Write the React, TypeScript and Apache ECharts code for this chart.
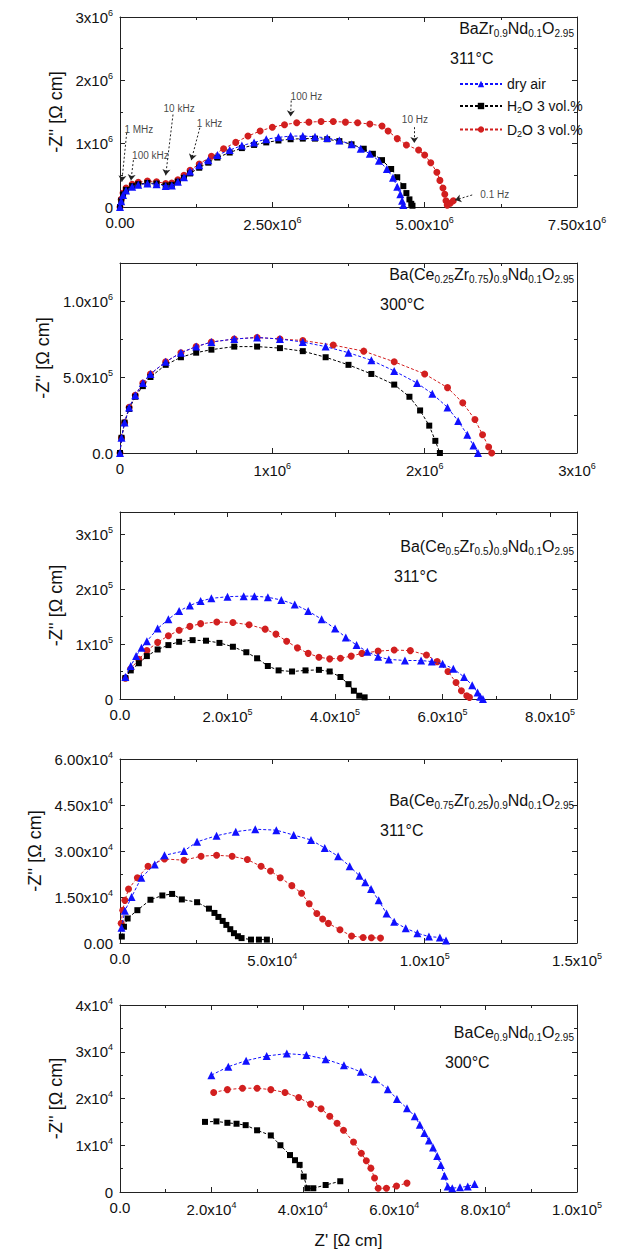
import { useEffect, useRef } from "react";
import * as echarts from "echarts";

// points in scaled units: [x, y]; scale given per panel
const panelTitles = [
  "BaZr{sub|0.9}Nd{sub|0.1}O{sub|2.95}",
  "Ba(Ce{sub|0.25}Zr{sub|0.75}){sub|0.9}Nd{sub|0.1}O{sub|2.95}",
  "Ba(Ce{sub|0.5}Zr{sub|0.5}){sub|0.9}Nd{sub|0.1}O{sub|2.95}",
  "Ba(Ce{sub|0.75}Zr{sub|0.25}){sub|0.9}Nd{sub|0.1}O{sub|2.95}",
  "BaCe{sub|0.9}Nd{sub|0.1}O{sub|2.95}",
];
const panelTemps = ["311°C", "300°C", "311°C", "311°C", "300°C"];
const legendNames = ["dry air", "H2O 3 vol.%", "D2O 3 vol.%"];

// panel 1 (x1e6, y1e6)
const p1Dry = [[0,0],[0.02,0.09],[0.05,0.19],[0.1,0.26],[0.2,0.32],[0.3,0.35],[0.45,0.37],[0.6,0.36],[0.75,0.33],[0.85,0.34],[0.95,0.4],[1.05,0.47],[1.15,0.56],[1.3,0.66],[1.45,0.74],[1.6,0.82],[1.8,0.9],[2.0,0.97],[2.2,1.02],[2.4,1.07],[2.6,1.1],[2.8,1.12],[3.0,1.12],[3.2,1.11],[3.4,1.09],[3.6,1.05],[3.8,0.99],[3.95,0.92],[4.1,0.84],[4.25,0.73],[4.38,0.6],[4.48,0.46],[4.55,0.32],[4.6,0.2],[4.63,0.1],[4.65,0.03]];
const p1H2O = [[0,0],[0.02,0.1],[0.05,0.2],[0.1,0.27],[0.2,0.33],[0.3,0.36],[0.45,0.38],[0.6,0.37],[0.75,0.34],[0.85,0.35],[0.95,0.4],[1.05,0.46],[1.15,0.53],[1.3,0.62],[1.45,0.7],[1.6,0.78],[1.8,0.86],[2.0,0.93],[2.2,0.98],[2.4,1.02],[2.6,1.05],[2.8,1.07],[3.0,1.08],[3.2,1.08],[3.4,1.07],[3.6,1.04],[3.8,0.99],[4.0,0.92],[4.15,0.84],[4.3,0.74],[4.45,0.6],[4.55,0.47],[4.65,0.33],[4.7,0.22],[4.75,0.12],[4.78,0.05],[4.8,0.02]];
const p1D2O = [[0,0],[0.02,0.12],[0.05,0.22],[0.1,0.3],[0.2,0.36],[0.3,0.39],[0.45,0.41],[0.6,0.4],[0.75,0.37],[0.85,0.38],[0.95,0.43],[1.05,0.5],[1.15,0.58],[1.3,0.68],[1.5,0.8],[1.7,0.92],[1.9,1.02],[2.1,1.12],[2.3,1.2],[2.5,1.26],[2.7,1.3],[2.9,1.33],[3.1,1.34],[3.3,1.35],[3.5,1.35],[3.7,1.34],[3.9,1.33],[4.1,1.31],[4.3,1.28],[4.4,1.2],[4.55,1.08],[4.7,0.98],[4.9,0.9],[5.0,0.82],[5.1,0.7],[5.2,0.55],[5.25,0.42],[5.3,0.3],[5.33,0.2],[5.35,0.1],[5.37,0.03],[5.42,0.06],[5.47,0.1]];

// panel 2 (x1e6, y1e6)
const p2Dry = [[0,0],[0.01,0.1],[0.03,0.2],[0.06,0.3],[0.1,0.38],[0.15,0.46],[0.2,0.52],[0.3,0.6],[0.4,0.66],[0.5,0.7],[0.6,0.73],[0.75,0.75],[0.9,0.76],[1.05,0.75],[1.2,0.73],[1.35,0.7],[1.5,0.66],[1.65,0.61],[1.8,0.54],[1.95,0.46],[2.05,0.39],[2.15,0.3],[2.22,0.21],[2.28,0.12],[2.32,0.05],[2.35,0]];
const p2H2O = [[0,0],[0.01,0.1],[0.03,0.2],[0.06,0.29],[0.1,0.37],[0.15,0.44],[0.2,0.5],[0.3,0.58],[0.4,0.63],[0.5,0.66],[0.6,0.68],[0.75,0.7],[0.9,0.7],[1.05,0.69],[1.2,0.67],[1.35,0.63],[1.5,0.58],[1.65,0.52],[1.8,0.45],[1.9,0.37],[1.97,0.28],[2.03,0.18],[2.07,0.08],[2.1,0]];
const p2D2O = [[0,0],[0.01,0.1],[0.03,0.2],[0.06,0.3],[0.1,0.38],[0.15,0.46],[0.2,0.52],[0.3,0.6],[0.4,0.66],[0.5,0.7],[0.6,0.73],[0.75,0.75],[0.9,0.76],[1.05,0.75],[1.2,0.74],[1.4,0.71],[1.6,0.67],[1.8,0.6],[2.0,0.52],[2.15,0.43],[2.25,0.33],[2.33,0.22],[2.38,0.12],[2.42,0.04],[2.44,0]];

// panel 3 (x1e5, y1e5)
const p3Dry = [[0.1,0.4],[0.2,0.6],[0.3,0.78],[0.4,0.93],[0.5,1.05],[0.7,1.28],[0.9,1.45],[1.1,1.6],[1.3,1.7],[1.5,1.78],[1.7,1.83],[2.0,1.86],[2.3,1.87],[2.5,1.87],[2.75,1.85],[3.0,1.8],[3.25,1.72],[3.5,1.6],[3.75,1.45],[4.0,1.28],[4.2,1.12],[4.4,0.98],[4.6,0.86],[4.8,0.77],[5.0,0.72],[5.3,0.7],[5.6,0.7],[5.8,0.68],[6.0,0.64],[6.2,0.55],[6.4,0.4],[6.55,0.25],[6.65,0.12],[6.7,0.04],[6.75,0]];
const p3H2O = [[0.1,0.38],[0.2,0.52],[0.35,0.65],[0.5,0.78],[0.7,0.9],[0.9,0.98],[1.1,1.04],[1.35,1.07],[1.6,1.06],[1.85,1.02],[2.1,0.95],[2.35,0.85],[2.55,0.74],[2.75,0.6],[2.95,0.52],[3.2,0.5],[3.45,0.52],[3.7,0.53],[3.9,0.5],[4.1,0.4],[4.25,0.27],[4.35,0.15],[4.45,0.06],[4.55,0.03]];
const p3D2O = [[0.1,0.38],[0.2,0.55],[0.35,0.72],[0.5,0.88],[0.7,1.03],[0.9,1.15],[1.1,1.25],[1.3,1.32],[1.5,1.37],[1.8,1.4],[2.1,1.39],[2.4,1.35],[2.7,1.27],[2.9,1.18],[3.1,1.05],[3.3,0.93],[3.5,0.83],[3.7,0.76],[3.9,0.73],[4.1,0.74],[4.3,0.78],[4.5,0.83],[4.8,0.87],[5.1,0.89],[5.4,0.88],[5.7,0.8],[5.9,0.68],[6.1,0.5],[6.25,0.3],[6.35,0.15],[6.45,0.06],[6.5,0.03]];

// panel 4 (x1e4, y1e4)
const p4Dry = [[0.05,0.5],[0.16,1.05],[0.38,1.5],[0.7,2.13],[1.14,2.56],[1.46,2.86],[2.1,3.0],[2.53,3.3],[3.17,3.5],[3.8,3.63],[4.44,3.71],[5.13,3.68],[5.7,3.52],[6.27,3.36],[6.72,3.1],[7.16,2.83],[7.54,2.5],[7.86,2.19],[8.05,1.98],[8.24,1.76],[8.49,1.39],[8.75,0.96],[9.0,0.69],[9.38,0.48],[9.76,0.32],[10.14,0.21],[10.5,0.18],[10.7,0.08]];
const p4H2O = [[0.06,0.21],[0.13,0.53],[0.25,0.8],[0.57,1.07],[1.0,1.41],[1.39,1.55],[1.71,1.6],[2.03,1.42],[2.53,1.33],[2.92,1.12],[3.1,0.98],[3.23,0.85],[3.37,0.72],[3.49,0.59],[3.62,0.45],[3.74,0.32],[3.87,0.22],[3.99,0.16],[4.3,0.11],[4.56,0.11],[4.82,0.11]];
const p4D2O = [[0.04,0.64],[0.09,1.07],[0.16,1.39],[0.28,1.76],[0.57,2.13],[0.92,2.5],[1.46,2.74],[2.1,2.7],[2.66,2.83],[3.17,2.86],[3.68,2.83],[4.18,2.72],[4.63,2.5],[4.94,2.35],[5.26,2.13],[5.64,1.87],[5.96,1.62],[6.21,1.28],[6.46,0.96],[6.65,0.78],[6.84,0.64],[7.22,0.43],[7.6,0.23],[7.98,0.18],[8.25,0.17],[8.55,0.16]];

// panel 5 (x1e4, y1e4)
const p5Dry = [[2.0,2.5],[2.37,2.68],[2.76,2.81],[3.21,2.91],[3.65,2.96],[4.08,2.93],[4.5,2.84],[4.9,2.71],[5.27,2.57],[5.58,2.41],[5.86,2.2],[6.06,1.99],[6.28,1.79],[6.45,1.62],[6.56,1.44],[6.66,1.26],[6.76,1.1],[6.85,0.95],[6.94,0.77],[7.02,0.58],[7.1,0.35],[7.17,0.12],[7.27,0.08],[7.44,0.1],[7.61,0.12],[7.76,0.17]];
const p5H2O = [[1.86,1.5],[2.11,1.51],[2.35,1.48],[2.55,1.46],[2.75,1.43],[3.0,1.32],[3.3,1.21],[3.51,1.0],[3.72,0.79],[3.83,0.68],[3.93,0.58],[4.02,0.33],[4.1,0.08],[4.23,0.08],[4.5,0.15],[4.82,0.23]];
const p5D2O = [[2.05,2.13],[2.35,2.19],[2.68,2.22],[3.0,2.22],[3.3,2.19],[3.61,2.13],[3.91,2.02],[4.17,1.88],[4.4,1.78],[4.59,1.62],[4.75,1.47],[4.89,1.32],[5.11,1.07],[5.28,0.83],[5.39,0.67],[5.49,0.51],[5.57,0.3],[5.65,0.08],[5.83,0.08],[6.05,0.13],[6.28,0.19]];

const panelData = [
  [p1Dry, p1H2O, p1D2O],
  [p2Dry, p2H2O, p2D2O],
  [p3Dry, p3H2O, p3D2O],
  [p4Dry, p4H2O, p4D2O],
  [p5Dry, p5H2O, p5D2O],
];
const xScale = [1e6, 1e6, 1e5, 1e4, 1e4];
const yScale = [1e6, 1e6, 1e5, 1e4, 1e4];
const xMax = [7.5e6, 3e6, 8.5e5, 1.5e5, 1e5];
const xInterval = [2.5e6, 1e6, 2e5, 5e4, 2e4];
const xDecimals = [2, 0, 1, 1, 1];
const yMax = [3e6, 1.25e6, 3.4e5, 6e4, 4e4];
const yInterval = [1e6, 5e5, 1e5, 1.5e4, 1e4];
const yDecimals = [0, 1, 0, 2, 0];

// frequency annotations on panel 1 (x1e6, y1e6)
const freqLabels = [
  { text: "1 MHz", at: [0.31, 1.23], from: [0.11, 1.17], to: [0.03, 0.4] },
  { text: "100 kHz", at: [0.5, 0.82], from: [0.22, 0.74], to: [0.18, 0.42] },
  { text: "10 kHz", at: [0.97, 1.55], from: [0.87, 1.46], to: [0.75, 0.5] },
  { text: "1 kHz", at: [1.47, 1.32], from: [1.31, 1.25], to: [1.17, 0.74] },
  { text: "100 Hz", at: [3.06, 1.75], from: [2.81, 1.68], to: [2.8, 1.43] },
  { text: "10 Hz", at: [4.84, 1.38], from: [4.83, 1.26], to: [4.83, 1.01] },
  { text: "0.1 Hz", at: [6.15, 0.2], from: [5.78, 0.19], to: [5.5, 0.11] },
];

const colors = ["#1010ff", "#000000", "#d21f1f"];
const symbols = ["triangle", "rect", "circle"];
const symbolSizes = [8, 6, 7];

const rich = {
  sup: { fontSize: 9, verticalAlign: "top" as const, padding: [0, 0, 9, 0], fontFamily: "Liberation Sans", color: "#111" },
  sub: { fontSize: 10, padding: [9, 0, 0, 0], fontFamily: "Liberation Sans", color: "#111" },
};

function sci(v: number, d: number) {
  if (v === 0) return d === 0 ? "0" : (0).toFixed(d);
  const e = Math.floor(Math.log10(v) + 1e-9);
  const m = v / Math.pow(10, e);
  return `${m.toFixed(d)}x10{sup|${e}}`;
}

const grids = [
  { top: 9, height: 190 },
  { top: 255, height: 190 },
  { top: 504, height: 187 },
  { top: 751, height: 184 },
  { top: 997, height: 192 },
];

export default function App() {
  const chartRef = useRef<HTMLDivElement>(null);

  useEffect(() => {
    if (!chartRef.current) return;
    const chart = echarts.init(chartRef.current, null, { renderer: "svg" });

    const axisLine = { show: true, onZero: false, lineStyle: { color: "#222", width: 1 } };
    const xAxes: any[] = [];
    const yAxes: any[] = [];
    grids.forEach((_, i) => {
      const base = {
        gridIndex: i,
        type: "value",
        min: 0,
        axisLine,
        splitLine: { show: false },
        axisTick: { inside: true, length: 5, lineStyle: { color: "#222" } },
        minorTick: { show: true, splitNumber: 2, length: 3, lineStyle: { color: "#222" } },
      };
      const xFull = Math.abs(xMax[i] / xInterval[i] - Math.round(xMax[i] / xInterval[i])) < 1e-6;
      const yFull = Math.abs(yMax[i] / yInterval[i] - Math.round(yMax[i] / yInterval[i])) < 1e-6;
      xAxes.push({
        ...base,
        max: xMax[i],
        interval: xInterval[i],
        axisLabel: {
          formatter: (v: number) => sci(v, xDecimals[i]),
          rich,
          fontSize: 15,
          fontFamily: "Liberation Sans",
          color: "#111",
          margin: 8,
          showMaxLabel: xFull,
        },
        ...(i === 4
          ? {
              name: "Z' [Ω cm]",
              nameLocation: "middle",
              nameGap: 40,
              nameTextStyle: { fontSize: 17, fontFamily: "Liberation Sans", color: "#111" },
            }
          : {}),
      });
      xAxes.push({ ...base, position: "top", max: xMax[i], interval: xInterval[i], axisLabel: { show: false } });
      yAxes.push({
        ...base,
        max: yMax[i],
        interval: yInterval[i],
        axisLabel: {
          formatter: (v: number) => sci(v, yDecimals[i]),
          rich,
          fontSize: 15,
          fontFamily: "Liberation Sans",
          color: "#111",
          margin: 7,
          showMaxLabel: yFull,
        },
        name: "-Z'' [Ω cm]",
        nameLocation: "middle",
        nameGap: 54,
        nameTextStyle: { fontSize: 18, fontFamily: "Liberation Sans", color: "#111" },
      });
      yAxes.push({ ...base, position: "right", max: yMax[i], interval: yInterval[i], axisLabel: { show: false } });
    });

    const series: any[] = [];
    panelData.forEach((set, i) => {
      set.forEach((pts, k) => {
        series.push({
          name: i === 0 ? legendNames[k] : `${legendNames[k]} ${i + 1}`,
          type: "line",
          xAxisIndex: i * 2,
          yAxisIndex: i * 2,
          data: pts.map(([x, y]) => [x * xScale[i], y * yScale[i]]),
          symbol: symbols[k],
          symbolSize: symbolSizes[k],
          showAllSymbol: true,
          itemStyle: { color: colors[k] },
          lineStyle: { color: colors[k], width: 1, type: [3, 2] },
          z: 3 - k + 2,
        });
      });
    });

    series.push({
      type: "scatter",
      xAxisIndex: 0,
      yAxisIndex: 0,
      symbolSize: 0,
      silent: true,
      data: freqLabels.map((f) => [f.at[0] * 1e6, f.at[1] * 1e6, f.text]),
      label: {
        show: true,
        position: "inside",
        formatter: (p: any) => p.data[2],
        fontSize: 10,
        fontFamily: "Liberation Sans",
        color: "#111",
      },
      markLine: {
        silent: true,
        symbol: ["none", "arrow"],
        symbolSize: 6,
        label: { show: false },
        lineStyle: { color: "#222", width: 1, type: [2, 2] },
        data: freqLabels.map((f) => [
          { coord: [f.from[0] * 1e6, f.from[1] * 1e6] },
          { coord: [f.to[0] * 1e6, f.to[1] * 1e6] },
        ]),
      },
    });

    const titleTops = [12, 258, 530, 784, 1016];
    const tempLefts = [442, 372, 386, 372, 437];
    const graphic: any[] = [];
    titleTops.forEach((t, i) => {
      graphic.push({
        type: "text",
        right: 46,
        top: t,
        style: {
          text: panelTitles[i],
          rich: { sub: { fontSize: 10, padding: [10, 0, 0, 0], fontFamily: "Liberation Sans", fill: "#111" } },
          fontSize: 16,
          fontFamily: "Liberation Sans",
          fill: "#111",
        },
      });
      graphic.push({
        type: "text",
        left: tempLefts[i],
        top: t + 30,
        style: { text: panelTemps[i], fontSize: 16, fontFamily: "Liberation Sans", fill: "#111" },
      });
    });

    chart.setOption({
      animation: false,
      grid: grids.map((g) => ({ left: 112, right: 43, top: g.top, height: g.height })),
      xAxis: xAxes,
      yAxis: yAxes,
      legend: {
        data: legendNames,
        orient: "vertical",
        left: 446,
        top: 64,
        itemGap: 8,
        itemWidth: 42,
        itemHeight: 8,
        formatter: (n: string) => n.replace("H2O", "H{sub|2}O").replace("D2O", "D{sub|2}O"),
        textStyle: {
          fontSize: 14,
          fontFamily: "Liberation Sans",
          color: "#111",
          rich: { sub: { fontSize: 9, padding: [8, 0, 0, 0], fontFamily: "Liberation Sans", color: "#111" } },
        },
      },
      series,
      graphic,
    });

    return () => chart.dispose();
  }, []);

  return <div ref={chartRef} style={{ width: 612, height: 1242 }} />;
}
